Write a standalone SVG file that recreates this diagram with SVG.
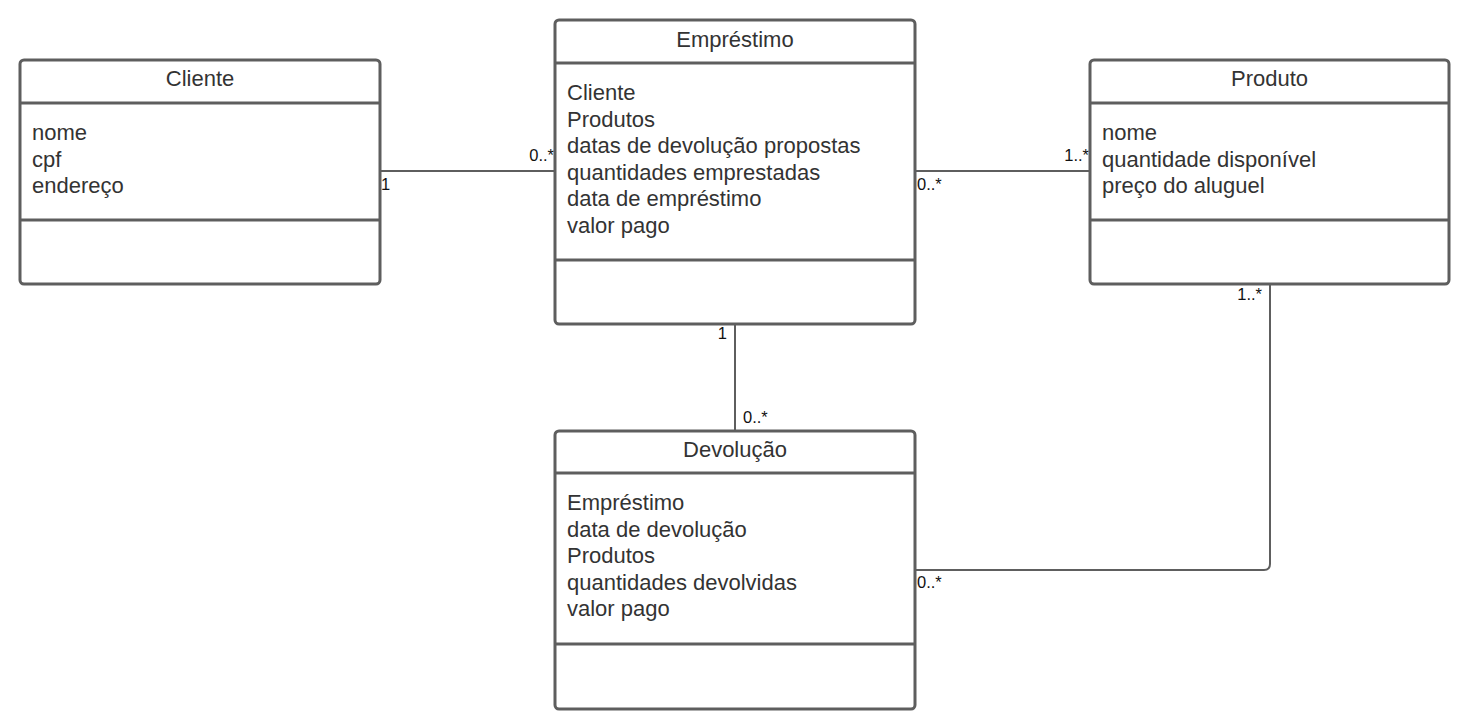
<svg xmlns="http://www.w3.org/2000/svg" width="1470" height="728" viewBox="0 0 1470 728">
<style>
.box{fill:#fff;stroke:#5e5e5e;stroke-width:3}
.div{stroke:#5e5e5e;stroke-width:3}
.title{font-family:"Liberation Sans",Arial,sans-serif;font-size:22px;fill:#333;text-anchor:middle}
.attr{font-family:"Liberation Sans",Arial,sans-serif;font-size:22px;fill:#333}
.conn{fill:none;stroke:#5e5e5e;stroke-width:2}
.lbl{font-family:"Liberation Sans",Arial,sans-serif;font-size:16.5px;fill:#111}
</style>
<rect width="1470" height="728" fill="#fff"/>
<g id="connectors">
<path class="conn" d="M380,171 H555"/>
<path class="conn" d="M916,171 H1090"/>
<path class="conn" d="M735,324 V431"/>
<path class="conn" d="M1270,284 V564 Q1270,570 1264,570 H916"/>
<text class="lbl" x="381" y="190">1</text>
<text class="lbl" x="554" y="161" text-anchor="end">0..*</text>
<text class="lbl" x="917" y="190">0..*</text>
<text class="lbl" x="1089" y="161" text-anchor="end">1..*</text>
<text class="lbl" x="727" y="339" text-anchor="end">1</text>
<text class="lbl" x="743" y="423">0..*</text>
<text class="lbl" x="1262" y="300" text-anchor="end">1..*</text>
<text class="lbl" x="917" y="588">0..*</text>
</g>
<g id="cliente">
<rect class="box" x="20" y="60" width="360" height="224" rx="4"/>
<line class="div" x1="20" y1="103" x2="380" y2="103"/>
<line class="div" x1="20" y1="220" x2="380" y2="220"/>
<text class="title" x="200" y="86">Cliente</text>
<text class="attr" x="32" y="140">nome</text>
<text class="attr" x="32" y="166.5">cpf</text>
<text class="attr" x="32" y="193">endereço</text>
</g>
<g id="emprestimo">
<rect class="box" x="555" y="20" width="360" height="304" rx="4"/>
<line class="div" x1="555" y1="63" x2="915" y2="63"/>
<line class="div" x1="555" y1="260" x2="915" y2="260"/>
<text class="title" x="735" y="47">Empréstimo</text>
<text class="attr" x="567" y="100">Cliente</text>
<text class="attr" x="567" y="126.5">Produtos</text>
<text class="attr" x="567" y="153">datas de devolução propostas</text>
<text class="attr" x="567" y="179.5">quantidades emprestadas</text>
<text class="attr" x="567" y="206">data de empréstimo</text>
<text class="attr" x="567" y="232.5">valor pago</text>
</g>
<g id="produto">
<rect class="box" x="1090" y="60" width="359" height="224" rx="4"/>
<line class="div" x1="1090" y1="103" x2="1449" y2="103"/>
<line class="div" x1="1090" y1="220" x2="1449" y2="220"/>
<text class="title" x="1269.5" y="86">Produto</text>
<text class="attr" x="1102" y="140">nome</text>
<text class="attr" x="1102" y="166.5">quantidade disponível</text>
<text class="attr" x="1102" y="193">preço do aluguel</text>
</g>
<g id="devolucao">
<rect class="box" x="555" y="431" width="360" height="278" rx="4"/>
<line class="div" x1="555" y1="473" x2="915" y2="473"/>
<line class="div" x1="555" y1="644" x2="915" y2="644"/>
<text class="title" x="735" y="457">Devolução</text>
<text class="attr" x="567" y="510">Empréstimo</text>
<text class="attr" x="567" y="536.5">data de devolução</text>
<text class="attr" x="567" y="563">Produtos</text>
<text class="attr" x="567" y="589.5">quantidades devolvidas</text>
<text class="attr" x="567" y="616">valor pago</text>
</g>
</svg>
